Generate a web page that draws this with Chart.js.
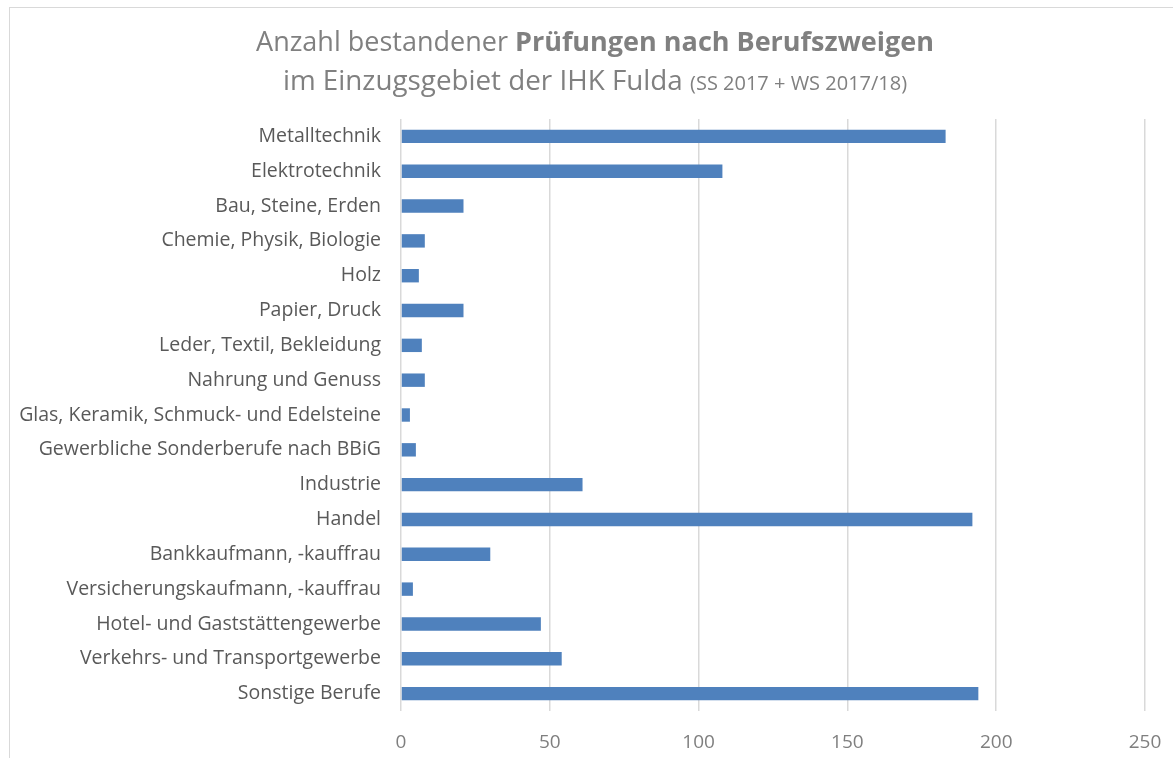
<!DOCTYPE html>
<html lang="de">
<head>
<meta charset="utf-8">
<title>Prüfungen nach Berufszweigen</title>
<script src="https://cdn.jsdelivr.net/npm/chart.js@4.4.1/dist/chart.umd.min.js"></script>
<style>
    html, body {
        margin: 0;
        padding: 0;
        background: #fff;
    }
    #wrap {
        position: relative;
        width: 1173px;
        height: 758px;
        overflow: hidden;
    }
    #rahmen {
        position: absolute;
        left: 9px;
        top: 7px;
        width: 1200px;
        height: 800px;
        border-top: 1px solid #d9d9d9;
        border-left: 1px solid #d9d9d9;
    }
    #titel {
        position: absolute;
        left: 0;
        top: 22px;
        width: 1190px;
        text-align: center;
        font-family: "Open Sans", sans-serif;
        font-size: 27px;
        line-height: 38px;
        color: #808080;
    }
    #titel b {
        font-weight: 700;
    }
    #titel .zeile2 {
        font-size: 27.8px;
    }
    #titel small {
        font-size: 20px;
    }
    #chart-barras {
        position: absolute;
        left: 0;
        top: 0;
    }
</style>
</head>
<body>
<div id="wrap">
    <div id="rahmen"></div>
    <canvas id="chart-barras" width="1173" height="758"></canvas>
    <div id="titel">
        Anzahl bestandener <b>Prüfungen nach Berufszweigen</b><br>
        <span class="zeile2">im Einzugsgebiet der IHK Fulda <small>(SS 2017 + WS 2017/18)</small></span>
    </div>
</div>
<script>
const berufszweige = [
    "Metalltechnik",
    "Elektrotechnik",
    "Bau, Steine, Erden",
    "Chemie, Physik, Biologie",
    "Holz",
    "Papier, Druck",
    "Leder, Textil, Bekleidung",
    "Nahrung und Genuss",
    "Glas, Keramik, Schmuck- und Edelsteine",
    "Gewerbliche Sonderberufe nach BBiG",
    "Industrie",
    "Handel",
    "Bankkaufmann, -kauffrau",
    "Versicherungskaufmann, -kauffrau",
    "Hotel- und Gaststättengewerbe",
    "Verkehrs- und Transportgewerbe",
    "Sonstige Berufe",
];
const bestanden = [183, 108, 21, 8, 6, 21, 7, 8, 3, 5, 61, 192, 30, 4, 47, 54, 194];
const xTicks = [0, 50, 100, 150, 200, 250];

function chartBarras() {
    const ctx = document.getElementById("chart-barras").getContext("2d");
    new Chart(ctx, {
        type: "bar",
        data: {
            labels: berufszweige,
            datasets: [
                {
                    label: "Bestandene Prüfungen",
                    data: bestanden,
                    backgroundColor: "#4f81bd",
                    borderWidth: 0,
                    categoryPercentage: 1,
                    barPercentage: 0.385,
                },
            ],
        },
        options: {
            indexAxis: "y",
            responsive: false,
            animation: false,
            layout: {
                padding: { top: 119, right: 28, bottom: 0, left: 10 },
            },
            plugins: {
                legend: { display: false },
                tooltip: { enabled: false },
            },
            scales: {
                x: {
                    min: 0,
                    max: 250,
                    afterBuildTicks: (axis) => {
                        axis.ticks = xTicks.map((v) => ({ value: v }));
                    },
                    afterFit: (axis) => {
                        axis.height = 47;
                        axis.paddingLeft = 0;
                        axis.paddingRight = 0;
                    },
                    grid: {
                        color: "#d9d9d9",
                        lineWidth: 1.5,
                        drawTicks: false,
                    },
                    border: { display: false },
                    ticks: {
                        padding: 20,
                        color: "#7f7f7f",
                        font: { family: "'Open Sans', sans-serif", size: 19 },
                    },
                },
                y: {
                    afterFit: (axis) => {
                        axis.width = 391;
                    },
                    grid: { display: false },
                    border: { display: false },
                    ticks: {
                        padding: 12,
                        autoSkip: false,
                        color: "#595959",
                        font: { family: "'Open Sans', sans-serif", size: 19.5 },
                    },
                },
            },
        },
    });
}

document.addEventListener("DOMContentLoaded", function () {
    chartBarras();
});
</script>
</body>
</html>
